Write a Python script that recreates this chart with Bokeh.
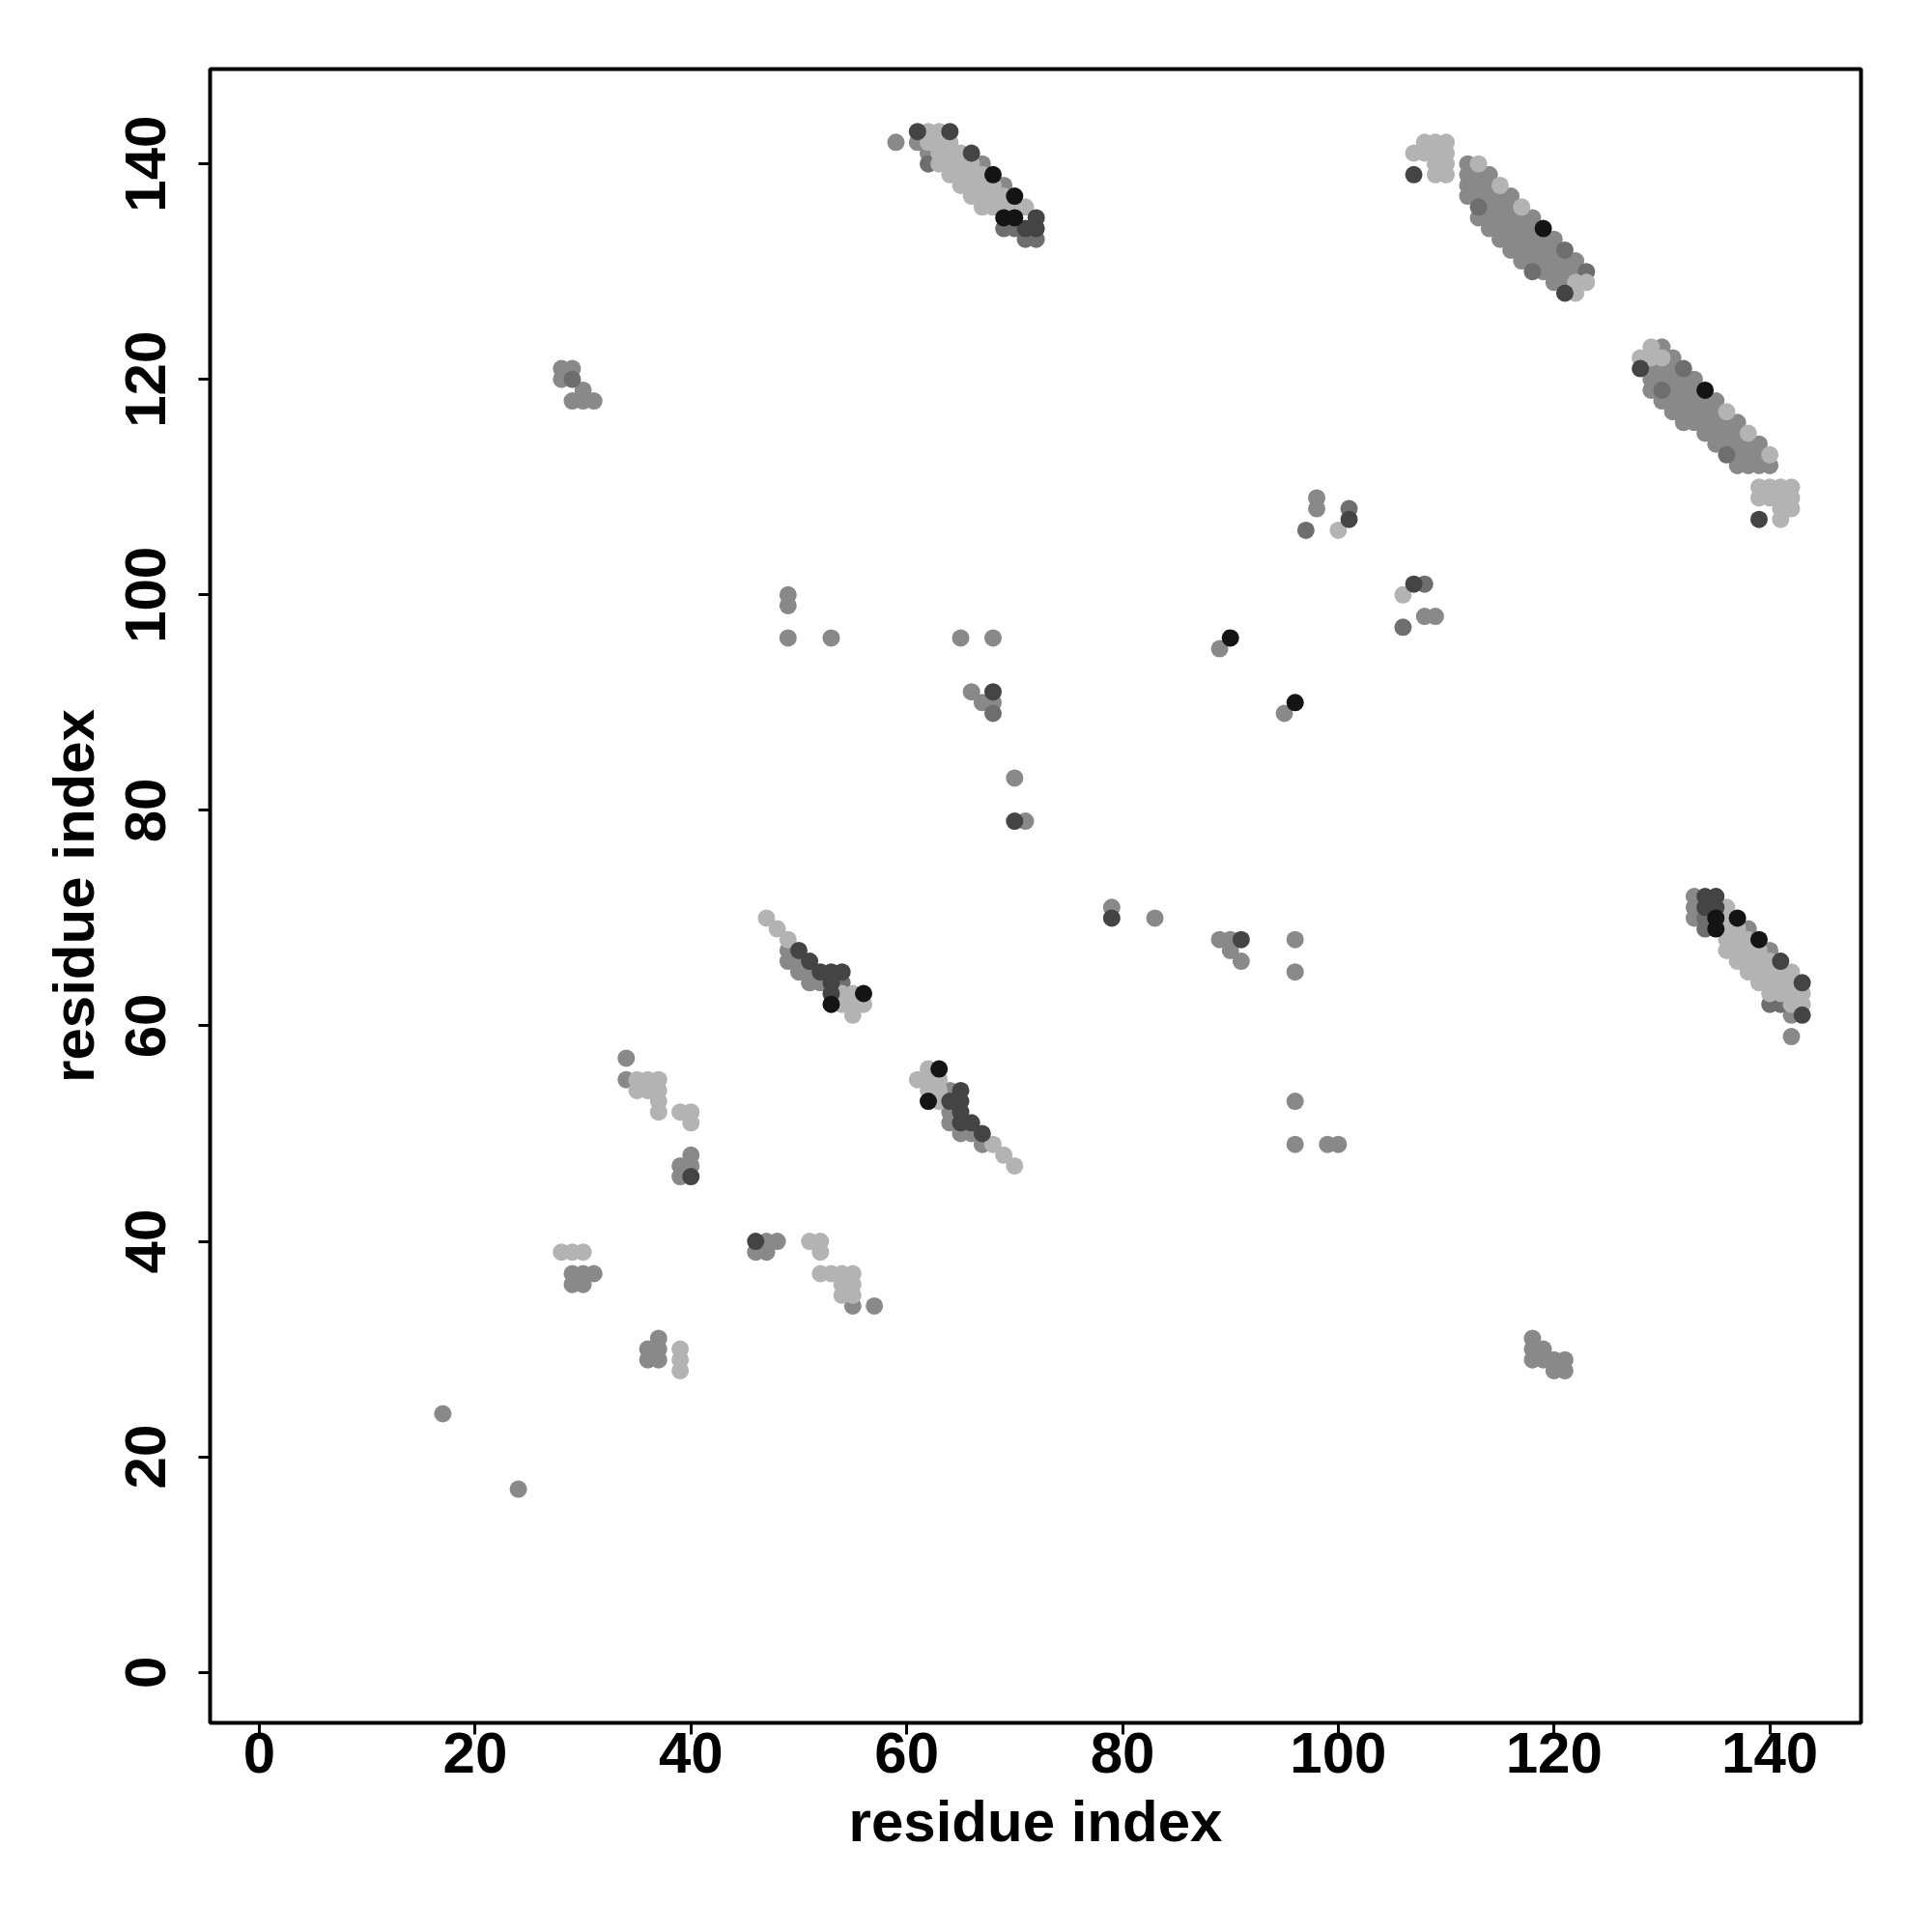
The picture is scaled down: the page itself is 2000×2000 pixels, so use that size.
from bokeh.plotting import figure
from bokeh.models import Range1d, ColumnDataSource, FixedTicker
from bokeh.embed import file_html
from bokeh.resources import INLINE

# contact pairs (residue i, residue j), grouped by shade
black_pts = [(68,139),(70,137),(69,135),(70,135),(119,134),(134,119),
             (135,70),(135,69),(137,70),(139,68),(53,62),(56,63),(63,56),(62,53),
             (90,96),(96,90)]

dark_pts = [(61,143),(64,143),(66,141),(72,135),(71,134),(72,134),
            (107,139),(121,128),(128,121),(139,107),
            (134,72),(135,72),(134,71),(135,71),(141,66),(143,64),(143,61),
            (50,67),(51,66),(52,65),(53,65),(54,65),(53,64),(53,63),
            (65,54),(64,53),(65,53),(65,52),(66,51),(67,50),(65,51),
            (40,46),(46,40),(68,91),(70,79),(101,107),(107,101),(79,70),(91,68)]

middark_pts = [(62,140),(69,134),(70,134),(71,133),(72,133),
               (113,136),(121,132),(123,130),(118,130),
               (132,121),(130,119),(136,113),
               (134,70),(134,69),(140,62),(141,62),(54,64),(29,120),(68,89),
               (97,106),(101,108),(108,101),(106,97)]

mid_pts = [(59,142),(61,142),(62,141),(67,140),(69,138),
           # band 112-123 / 128-140
           (112,137),(112,138),(112,139),(112,140),
           (113,135),(113,137),(113,138),(113,139),
           (114,134),(114,135),(114,136),(114,137),(114,138),(114,139),
           (115,133),(115,134),(115,135),(115,136),(115,137),
           (116,132),(116,133),(116,134),(116,135),(116,136),(116,137),
           (117,131),(117,132),(117,133),(117,134),(117,135),
           (118,131),(118,132),(118,133),(118,134),(118,135),
           (119,130),(119,131),(119,132),(119,133),
           (120,129),(120,130),(120,131),(120,132),(120,133),
           (121,129),(121,130),(121,131),(122,130),(122,131),
           # band 129-140 / 112-123
           (130,123),
           (129,119),(129,120),(129,121),
           (130,118),(130,120),(130,121),
           (131,117),(131,118),(131,119),(131,120),(131,121),(131,122),
           (132,116),(132,117),(132,118),(132,119),(132,120),
           (133,116),(133,117),(133,118),(133,119),(133,120),
           (134,115),(134,116),(134,117),(134,118),
           (135,114),(135,115),(135,116),(135,117),(135,118),
           (136,114),(136,115),(136,116),
           (137,112),(137,113),(137,114),(137,115),(137,116),
           (138,112),(138,113),(138,114),
           (139,112),(139,113),(139,114),(140,112),
           (133,72),(133,71),(133,70),(138,69),(140,67),(142,61),(142,59),
           (49,67),(49,66),(50,66),(50,65),(51,65),(51,64),(52,64),
           (64,54),(64,51),(65,50),(66,50),(67,49),(64,52),
           (34,57),(34,55),(40,48),(39,47),(40,47),(39,46),
           (29,37),(30,37),(31,37),(29,36),(30,36),
           (47,40),(48,40),(46,39),(47,39),(55,34),(57,34),
           (37,31),(36,30),(37,30),(36,29),(37,29),
           (28,121),(29,121),(28,120),(30,119),(29,118),(30,118),(31,118),
           (118,31),(118,30),(119,30),(118,29),(119,29),(120,29),(120,28),(121,29),(121,28),
           (17,24),(24,17),
           (49,100),(49,99),(49,96),(53,96),(65,96),(68,96),(66,91),(67,90),(68,90),(70,83),(71,79),
           (98,109),(98,108),(108,98),(109,98),(89,95),(95,89),
           (79,71),(83,70),(89,68),(90,68),(90,67),(91,66),(96,68),(96,65),(96,53),(96,49),(99,49),(100,49)]

light_pts = [(62,143),(63,143),(62,142),(63,142),(64,142),(63,141),(64,141),(65,141),
             (63,140),(64,140),(65,140),(66,140),(64,139),(65,139),(66,139),(67,139),
             (65,138),(66,138),(67,138),(68,138),(66,137),(67,137),(68,137),(69,137),
             (67,136),(68,136),(69,136),(70,136),(71,136),
             (107,141),(108,142),(109,142),(110,142),(108,141),(109,141),(110,141),
             (109,140),(110,140),(109,139),(110,139),(113,140),(115,138),(117,136),
             (122,129),(123,129),(122,128),
             (128,122),(129,123),(129,122),(130,122),(136,117),(138,115),(140,113),
             (139,110),(140,110),(141,110),(142,110),(139,109),(140,109),(141,109),(142,109),
             (141,108),(142,108),(141,107),
             (136,71),(136,67),(136,68),(136,69),(136,70),(137,66),(137,67),(137,68),(137,69),
             (138,65),(138,66),(138,67),(138,68),(139,64),(139,65),(139,66),(139,67),
             (140,63),(140,64),(140,65),(140,66),(141,63),(141,64),(141,65),
             (142,62),(142,63),(142,64),(142,65),(143,62),(143,63),
             (47,70),(48,69),(49,68),(54,63),(55,63),(54,62),(55,62),(56,62),(55,61),
             (61,55),(62,56),(62,55),(63,55),(62,54),(63,54),(63,53),(68,49),(69,48),(70,47),
             (35,55),(36,55),(37,55),(35,54),(36,54),(37,54),(37,53),(37,52),(39,52),(40,52),(40,51),
             (28,39),(29,39),(30,39),
             (51,40),(52,40),(52,39),(52,37),(53,37),(54,37),(55,37),(54,36),(55,36),(54,35),(55,35),
             (39,30),(39,29),(39,28),(100,106),(106,100)]

tick_values = [0, 20, 40, 60, 80, 100, 120, 140]
axis_title = "residue index"

layers = [(mid_pts, "#898989"), (middark_pts, "#6e6e6e"), (light_pts, "#b3b3b3"),
          (dark_pts, "#444444"), (black_pts, "#141414")]

p = figure(frame_width=1709, frame_height=1712,
           x_range=Range1d(-4.57, 148.45), y_range=Range1d(-4.69, 148.8),
           output_backend="svg", toolbar_location=None,
           min_border_left=217, min_border_top=71, min_border_right=58, min_border_bottom=201)

for pts, col in layers:
    src = ColumnDataSource(dict(x=[a for a, b in pts], y=[b for a, b in pts]))
    p.scatter("x", "y", source=src, size=18, fill_color=col, line_color=None)

p.grid.visible = False
p.outline_line_color = "black"
p.outline_line_width = 4
p.background_fill_color = "white"
p.border_fill_color = "white"

for ax in (p.xaxis[0], p.yaxis[0]):
    ax.ticker = FixedTicker(ticks=tick_values)
    ax.axis_line_color = None
    ax.major_tick_in = 0
    ax.major_tick_out = 12
    ax.major_tick_line_width = 3
    ax.minor_tick_line_color = None
    ax.major_label_text_font = "Liberation Sans"
    ax.major_label_text_font_style = "bold"
    ax.major_label_text_font_size = "60px"
    ax.major_label_text_color = "black"
    ax.axis_label = axis_title
    ax.axis_label_text_font = "Liberation Sans"
    ax.axis_label_text_font_style = "bold"
    ax.axis_label_text_font_size = "60px"
    ax.axis_label_text_color = "black"

p.yaxis[0].major_label_orientation = "vertical"
p.yaxis[0].major_label_standoff = 34
p.yaxis[0].axis_label_standoff = 18
p.xaxis[0].major_label_standoff = -2
p.xaxis[0].axis_label_standoff = 14

open("out.html", "w").write(file_html(p, INLINE))
